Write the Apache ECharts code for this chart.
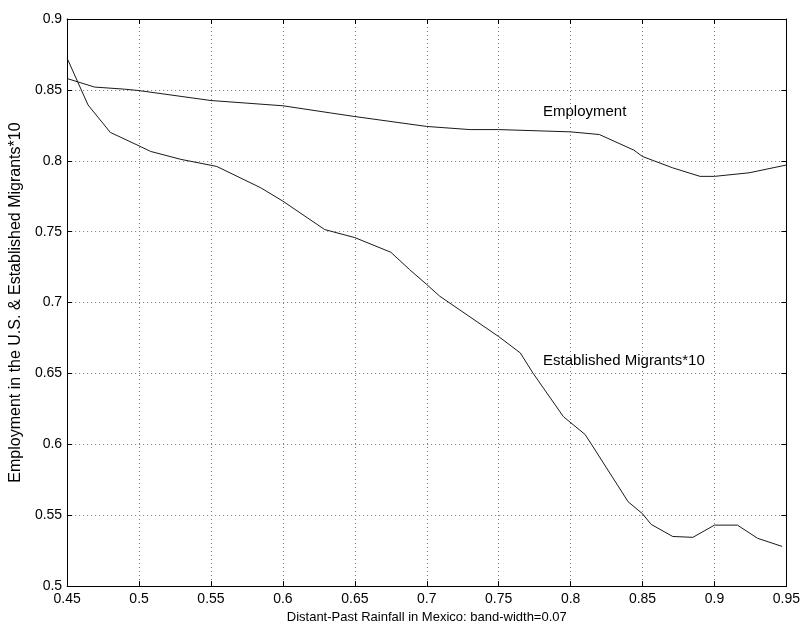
<!DOCTYPE html>
<html>
<head>
<meta charset="utf-8">
<script src="https://cdn.jsdelivr.net/npm/echarts@6/dist/echarts.min.js"></script>
<style>
  html, body { margin: 0; padding: 0; background: #fff; }
  #main { width: 803px; height: 629px; }
</style>
</head>
<body>
<div id="main"></div>
<script>
// rainfall (x) and the two kernel-smoothed curves
var empX = [0.45, 0.469, 0.49, 0.5, 0.55, 0.6, 0.634, 0.65, 0.7, 0.73, 0.75, 0.8, 0.82, 0.844, 0.85, 0.871, 0.89, 0.9, 0.924, 0.95];
var empY = [0.858, 0.852, 0.8505, 0.8495, 0.8425, 0.8388, 0.8336, 0.8312, 0.8242, 0.822, 0.822, 0.8204, 0.8185, 0.8075, 0.803, 0.795, 0.789, 0.789, 0.7915, 0.797];

var migX = [0.45, 0.4645, 0.48, 0.5, 0.508, 0.529, 0.554, 0.5845, 0.6, 0.629, 0.65, 0.675, 0.688, 0.7, 0.709, 0.75, 0.765, 0.774, 0.795, 0.81, 0.8145, 0.84, 0.85, 0.856, 0.871, 0.885, 0.9, 0.916, 0.93, 0.947];
var migY = [0.8723, 0.8394, 0.82, 0.8105, 0.8066, 0.801, 0.796, 0.781, 0.7715, 0.7515, 0.7458, 0.7355, 0.7233, 0.7127, 0.7045, 0.676, 0.6645, 0.65, 0.6195, 0.607, 0.60, 0.5595, 0.551, 0.5435, 0.535, 0.5344, 0.543, 0.543, 0.5337, 0.528];

var seriesNames = ['Employment', 'Established Migrants*10'];
var xTicks = [0.45, 0.5, 0.55, 0.6, 0.65, 0.7, 0.75, 0.8, 0.85, 0.9, 0.95];
var yTicks = [0.5, 0.55, 0.6, 0.65, 0.7, 0.75, 0.8, 0.85, 0.9];

function pairs(xs, ys) {
    return xs.map(function (x, i) { return [x, ys[i]]; });
}

var myChart = echarts.init(document.getElementById('main'));

var fontFamily = 'Liberation Sans, Arial, sans-serif';
var lineColor = '#1a1a1a';
var gridLine = { show: true, lineStyle: { color: '#777', type: [1, 3], width: 1 } };
var tickStyle = { show: true, inside: true, length: 5, lineStyle: { color: '#000' } };
var axisLine = { show: true, onZero: false, lineStyle: { color: '#000', width: 1 } };

var xBase = {
    type: 'value',
    min: xTicks[0],
    max: xTicks[xTicks.length - 1],
    interval: 0.05
};
var yBase = {
    type: 'value',
    min: yTicks[0],
    max: yTicks[yTicks.length - 1],
    interval: 0.05
};

var option = {
    animation: false,
    backgroundColor: '#fff',
    textStyle: { fontFamily: fontFamily },
    grid: { left: 66, right: 16, top: 19, bottom: 42 },
    xAxis: [
        Object.assign({}, xBase, {
            position: 'bottom',
            name: 'Distant-Past Rainfall in Mexico: band-width=0.07',
            nameLocation: 'middle',
            nameGap: 23,
            nameTextStyle: { color: '#000', fontSize: 13, fontFamily: fontFamily },
            axisLine: axisLine,
            axisTick: tickStyle,
            splitLine: gridLine,
            axisLabel: {
                color: '#000', fontSize: 14, margin: 6, fontFamily: fontFamily,
                formatter: function (v) { return String(+v.toFixed(2)); }
            }
        }),
        Object.assign({}, xBase, {
            position: 'top',
            axisLine: axisLine,
            axisTick: tickStyle,
            splitLine: { show: false },
            axisLabel: { show: false }
        })
    ],
    yAxis: [
        Object.assign({}, yBase, {
            position: 'left',
            name: 'Employment in the U.S. & Established Migrants*10',
            nameLocation: 'middle',
            nameGap: 37,
            nameTextStyle: { color: '#000', fontSize: 16, fontFamily: fontFamily },
            axisLine: axisLine,
            axisTick: tickStyle,
            splitLine: gridLine,
            axisLabel: {
                color: '#000', fontSize: 14, margin: 5, fontFamily: fontFamily,
                formatter: function (v) { return String(+v.toFixed(2)); }
            }
        }),
        Object.assign({}, yBase, {
            position: 'right',
            axisLine: axisLine,
            axisTick: tickStyle,
            splitLine: { show: false },
            axisLabel: { show: false }
        })
    ],
    series: [
        {
            name: seriesNames[0],
            type: 'line',
            data: pairs(empX, empY),
            showSymbol: false,
            symbol: 'none',
            lineStyle: { color: lineColor, width: 1 },
            markPoint: {
                symbol: 'circle',
                symbolSize: 0,
                label: {
                    show: true, position: 'right', distance: 0,
                    color: '#000', fontSize: 15, fontFamily: fontFamily,
                    formatter: seriesNames[0]
                },
                data: [{ coord: [0.7808, 0.8345] }]
            }
        },
        {
            name: seriesNames[1],
            type: 'line',
            data: pairs(migX, migY),
            showSymbol: false,
            symbol: 'none',
            lineStyle: { color: lineColor, width: 1 },
            markPoint: {
                symbol: 'circle',
                symbolSize: 0,
                label: {
                    show: true, position: 'right', distance: 0,
                    color: '#000', fontSize: 15, fontFamily: fontFamily,
                    formatter: seriesNames[1]
                },
                data: [{ coord: [0.7808, 0.6587] }]
            }
        }
    ]
};

myChart.setOption(option);
</script>
</body>
</html>
